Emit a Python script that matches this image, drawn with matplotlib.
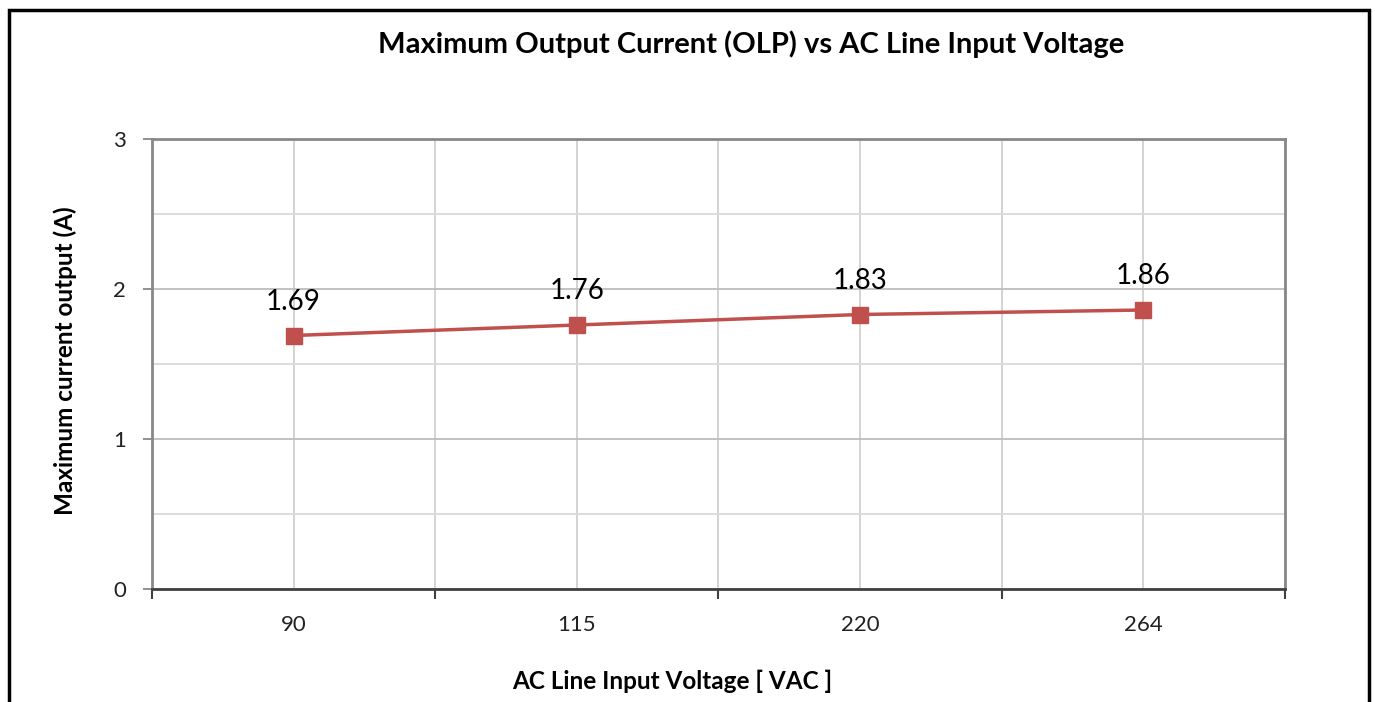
import matplotlib
matplotlib.use("Agg")
import matplotlib.pyplot as plt
from matplotlib.patches import Rectangle
from matplotlib.ticker import MultipleLocator, FixedLocator

categories = ["90", "115", "220", "264"]
values = [1.69, 1.76, 1.83, 1.86]

plt.rcParams['font.family'] = ['Lato', 'DejaVu Sans']

fig = plt.figure(figsize=(13.75, 7.02), dpi=100)
W, H = 1375, 702
ax = fig.add_axes([152 / W, 1 - 589 / H, (1285 - 152) / W, (589 - 139) / H])

x = [i + 0.5 for i in range(len(categories))]
ax.plot(x, values, color='#C0504D', lw=2.5, marker='s', markersize=11,
        markerfacecolor='#C0504D', markeredgecolor='#C0504D', zorder=3)
for xi, v in zip(x, values):
    ax.annotate(f"{v:.2f}", (xi, v), xytext=(0, 15), textcoords='offset points',
                ha='center', va='bottom', fontsize=20, color='#000000')

ax.set_xlim(0, len(categories))
ax.set_ylim(0, 3)
ax.yaxis.set_major_locator(MultipleLocator(1))
ax.yaxis.set_minor_locator(MultipleLocator(0.5))
ax.xaxis.set_major_locator(FixedLocator(list(range(len(categories) + 1))))
ax.xaxis.set_minor_locator(FixedLocator(x))
ax.set_xticklabels([""] * (len(categories) + 1))
ax.set_xticklabels(categories, minor=True)

ax.grid(True, which='major', axis='y', color='#bdbdbd', lw=1.3)
ax.grid(True, which='minor', axis='y', color='#d9d9d9', lw=1.3)
ax.grid(True, which='both', axis='x', color='#d0d0d0', lw=1.3)
ax.set_axisbelow(True)

for s in ['left', 'top', 'right']:
    ax.spines[s].set_color('#888888')
    ax.spines[s].set_linewidth(2)
ax.spines['bottom'].set_color('#404040')
ax.spines['bottom'].set_linewidth(2)

ax.tick_params(axis='y', which='major', length=6.5, width=1.3, color='#888888',
               labelsize=16, labelcolor='#222222', pad=12)
ax.tick_params(axis='y', which='minor', length=0)
ax.tick_params(axis='x', which='major', direction='out', length=7, width=1.5, color='#404040')
ax.tick_params(axis='x', which='minor', length=0, labelsize=16, labelcolor='#222222', pad=19)

fig.text(672 / W, 1 - 681 / H, "AC Line Input Voltage [ VAC ]",
         ha='center', va='center', fontsize=17.5, fontweight='bold')
fig.text(65 / W, 1 - 361 / H, "Maximum current output (A)", rotation=90,
         ha='center', va='center', fontsize=17.5, fontweight='bold')
fig.text(751 / W, 1 - 44 / H, "Maximum Output Current (OLP) vs AC Line Input Voltage",
         ha='center', va='center', fontsize=21, fontweight='bold')

fig.patches.append(Rectangle((9 / W, -0.05), (1369 - 9) / W, 1 - 10 / H + 0.05,
                             transform=fig.transFigure, fill=False, edgecolor='black',
                             lw=2.5))

fig.savefig("out.png", dpi=100)
